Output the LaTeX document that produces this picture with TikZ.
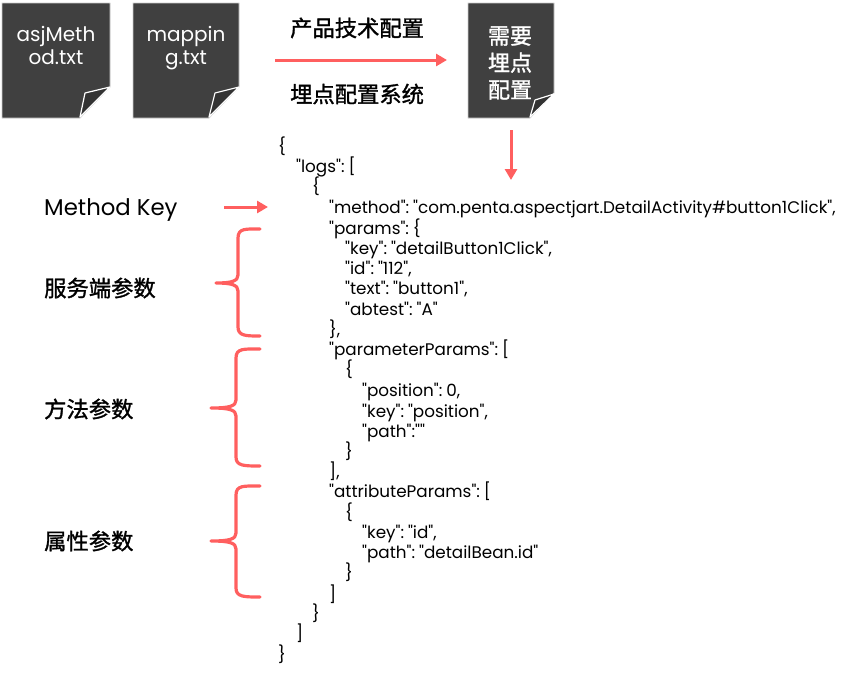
\documentclass[tikz,border=0pt]{standalone}
\usepackage{fontspec}
\setmainfont{Poppins}
\newfontfamily\codefont[WordSpace=0.55]{Poppins}
\newfontfamily\cjk[FakeBold=1.3]{Noto Sans CJK SC}
\definecolor{docgrey}{HTML}{404040}
\definecolor{flapgrey}{HTML}{333333}
\definecolor{redline}{HTML}{FF5F5F}
\usetikzlibrary{arrows.meta}
\tikzset{
  x=1pt,y=-1pt,
  doc/.style={fill=docgrey,draw=black!20,line width=.8pt},
  flap/.style={fill=flapgrey,draw=white,line width=1.2pt,line join=round},
  doctext/.style={text=white,font=\fontsize{20}{23}\selectfont,align=center,inner sep=0pt},
  doccjk/.style={text=white,font=\cjk\fontsize{22}{27}\selectfont,align=center,inner sep=0pt},
  label/.style={font=\fontsize{22.8}{25}\selectfont,inner sep=0pt,anchor=west},
  cjklabel/.style={font=\cjk\fontsize{22.3}{25}\selectfont,inner sep=0pt,anchor=west},
  code/.style={font=\codefont\fontsize{16.8}{20}\selectfont,inner sep=0pt,anchor=base west},
  redarrow/.style={draw=redline,line width=3pt,-{Triangle[length=11pt,width=12pt]}},
  redbrace/.style={draw=redline,line width=3.2pt,line cap=round,line join=round},
}
\begin{document}
\begin{tikzpicture}
\useasboundingbox (0,0) rectangle (864,672);
% documents
\path[doc] (2,3) -- (110,3) -- (110,87) -- (80,118) -- (2,118) -- cycle;
\path[flap] (110,87) -- (85,93) -- (80,117) -- cycle;
\path[doc] (133,3) -- (239,3) -- (239,87) -- (209,118) -- (133,118) -- cycle;
\path[flap] (239,87) -- (215,93) -- (209,117) -- cycle;
\path[doc] (468,3) -- (554,3) -- (554,93) -- (530,118) -- (468,118) -- cycle;
\path[flap] (554,94) -- (535,100) -- (530,117) -- cycle;
\node[doctext] (d1) at (56,45.5) {asjMeth\\od.txt};
\node[doctext] (d2) at (186,48) {mappin\\g.txt};
\node[doccjk] (d3) at (510,63) {需要\\埋点\\配置};
% top labels and arrows
\node[cjklabel] (l1) at (290,28) {产品技术配置};
\node[cjklabel] (l2) at (290,94) {埋点配置系统};
\coordinate (a1s) at (275,60);
\coordinate (a1e) at (447,60);
\draw[redarrow] (a1s) -- (a1e);
\coordinate (a2s) at (511,130);
\coordinate (a2e) at (511,180);
\draw[redarrow] (a2s) -- (a2e);
% left labels
\node[label] (mk) at (44,210) {Method Key};
\node[cjklabel] (s1) at (44,288) {服务端参数};
\node[cjklabel] (s2) at (44,409) {方法参数};
\node[cjklabel] (s3) at (44,541) {属性参数};
\coordinate (a3s) at (224,207);
\coordinate (a3e) at (268,207);
\draw[redarrow] (a3s) -- (a3e);
% braces
\draw[redbrace] (260,229) .. controls (246,229) and (238,228) .. (238,238) -- (238,275) .. controls (238,281) and (232,283) .. (216,283) .. controls (232,283) and (238,285) .. (238,291) -- (238,327) .. controls (238,336) and (246,336) .. (260,336);
\draw[redbrace] (260,349) .. controls (244,349) and (236,348) .. (236,358) -- (236,400) .. controls (236,406) and (230,408) .. (211,408) .. controls (230,408) and (236,410) .. (236,416) -- (236,457) .. controls (236,466) and (244,466) .. (260,466);
\draw[redbrace] (260,486) .. controls (244,486) and (236,485) .. (236,495) -- (236,533) .. controls (236,539) and (230,541) .. (211,541) .. controls (230,541) and (236,543) .. (236,549) -- (236,588) .. controls (236,597) and (244,597) .. (260,597);
% code
\node[code] (c01) at (278,152) {\{};
\node[code] (c02) at (296,172) {"logs": [};
\node[code] (c03) at (312,192) {\{};
\node[code] (c04) at (329,213) {"method": "com.penta.aspectjart.DetailActivity\#button1Click",};
\node[code] (c05) at (329,234) {"params": \{};
\node[code] (c06) at (345,254) {"key": "detailButton1Click",};
\node[code] (c07) at (345,274) {"id": "112",};
\node[code] (c08) at (345,294) {"text": "button1",};
\node[code] (c09) at (345,315) {"abtest": "A"};
\node[code] (c10) at (329,335) {\},};
\node[code] (c11) at (329,355) {"parameterParams": [};
\node[code] (c12) at (345,375) {\{};
\node[code] (c13) at (362,396) {"position": 0,};
\node[code] (c14) at (362,417) {"key": "position",};
\node[code] (c15) at (362,437) {"path":""};
\node[code] (c16) at (345,457) {\}};
\node[code] (c17) at (329,477) {],};
\node[code] (c18) at (329,497) {"attributeParams": [};
\node[code] (c19) at (345,518) {\{};
\node[code] (c20) at (362,538) {"key": "id",};
\node[code] (c21) at (362,558) {"path": "detailBean.id"};
\node[code] (c22) at (345,578) {\}};
\node[code] (c23) at (329,600) {]};
\node[code] (c24) at (312,619) {\}};
\node[code] (c25) at (296,639) {]};
\node[code] (c26) at (278,660) {\}};
\end{tikzpicture}
\end{document}
